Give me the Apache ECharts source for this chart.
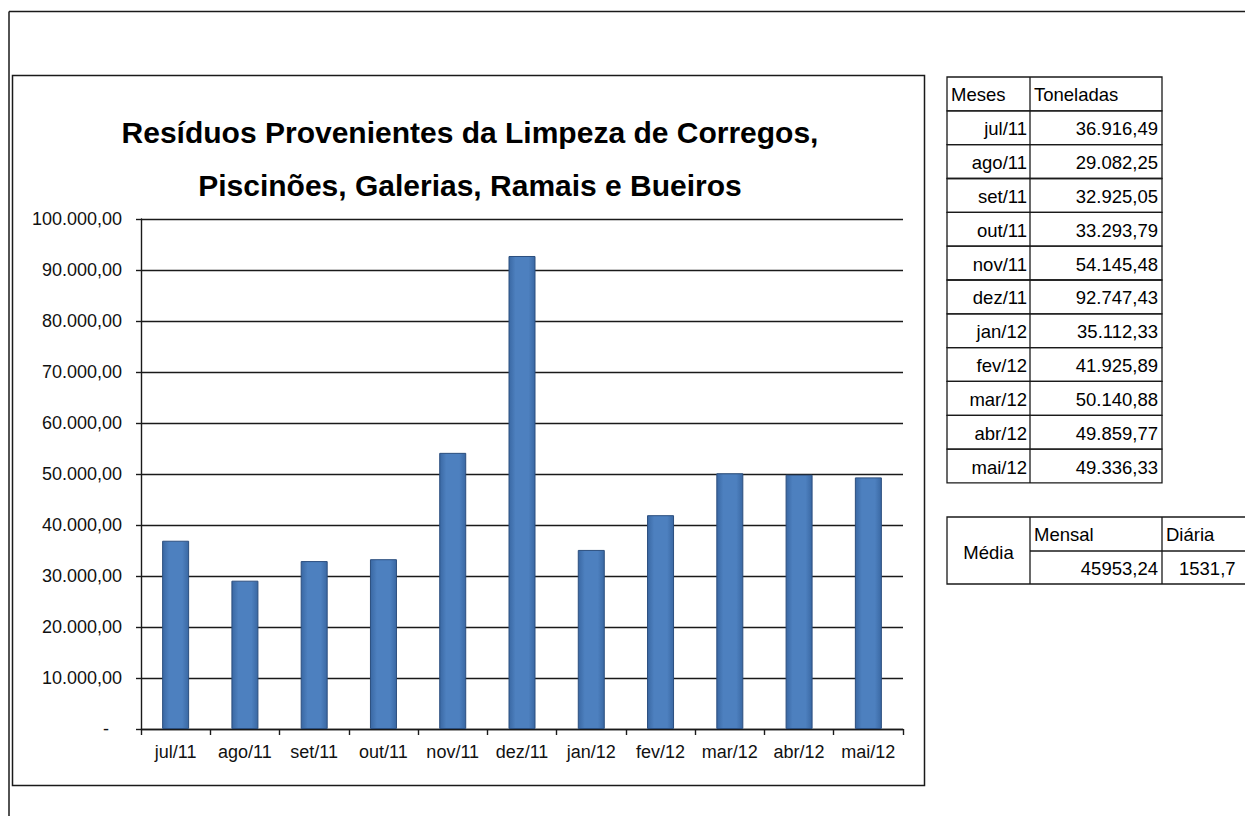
<!DOCTYPE html>
<html>
<head>
<meta charset="utf-8">
<script src="https://cdn.jsdelivr.net/npm/echarts@6/dist/echarts.min.js"></script>
<style>
html,body{margin:0;padding:0;background:#fff;}
#chart{width:1245px;height:816px;}
</style>
</head>
<body>
<div id="chart"></div>
<script>
// ---- data ----
const months = ['jul/11','ago/11','set/11','out/11','nov/11','dez/11','jan/12','fev/12','mar/12','abr/12','mai/12'];
const toneladas = [36916.49, 29082.25, 32925.05, 33293.79, 54145.48, 92747.43, 35112.33, 41925.89, 50140.88, 49859.77, 49336.33];
const titleLines = ['Resíduos Provenientes da Limpeza de Corregos,', 'Piscinões, Galerias, Ramais e Bueiros'];
const tableHeader = ['Meses', 'Toneladas'];
const mediaLabel = 'Média';
const mediaHeaders = ['Mensal', 'Diária'];
const mediaValues = ['45953,24', '1531,7'];
const yMin = 0, yMax = 100000, yStep = 10000;

function fmtBR(v) {
  const parts = v.toFixed(2).split('.');
  return parts[0].replace(/\B(?=(\d{3})+(?!\d))/g, '.') + ',' + parts[1];
}

const FONT = "'Liberation Sans', Arial, sans-serif";
const LINE = '#1a1a1a';

const graphics = [];
// outer frame (top and left edges)
graphics.push({type:'line', shape:{x1:9, y1:11.5, x2:1245, y2:11.5}, style:{stroke:LINE, lineWidth:1.5}, silent:true});
graphics.push({type:'line', shape:{x1:9, y1:11.5, x2:9, y2:816}, style:{stroke:LINE, lineWidth:1.5}, silent:true});
// chart box
graphics.push({type:'rect', shape:{x:12.5, y:75.5, width:912, height:710}, style:{stroke:LINE, lineWidth:1.5, fill:null}, silent:true, z:-1});
// title
titleLines.forEach((t, i) => {
  graphics.push({type:'text', x:470, y:132 + i*53, style:{text:t, font:"bold 30px " + FONT, fill:'#000', textAlign:'center', textVerticalAlign:'middle'}});
});

// data table
const tX0 = 947, tX1 = 1030, tX2 = 1162, tY0 = 77, rowH = 33.83;
const nRows = months.length + 1;
for (let r = 0; r < nRows; r++) {
  graphics.push({type:'rect', shape:{x:tX0, y:tY0 + r*rowH, width:tX2 - tX0, height:rowH}, style:{stroke:LINE, lineWidth:1.3, fill:null}, silent:true});
}
graphics.push({type:'line', shape:{x1:tX1, y1:tY0, x2:tX1, y2:tY0 + nRows*rowH}, style:{stroke:LINE, lineWidth:1.3}, silent:true});
const tFont = "18.5px " + FONT;
graphics.push({type:'text', x:tX0 + 4, y:tY0 + rowH/2 + 1, style:{text:tableHeader[0], font:tFont, fill:'#000', textAlign:'left', textVerticalAlign:'middle'}});
graphics.push({type:'text', x:tX1 + 4, y:tY0 + rowH/2 + 1, style:{text:tableHeader[1], font:tFont, fill:'#000', textAlign:'left', textVerticalAlign:'middle'}});
months.forEach((m, i) => {
  const cy = tY0 + (i + 1)*rowH + rowH/2 + 1;
  graphics.push({type:'text', x:tX1 - 3, y:cy, style:{text:m, font:tFont, fill:'#000', textAlign:'right', textVerticalAlign:'middle'}});
  graphics.push({type:'text', x:tX2 - 4, y:cy, style:{text:fmtBR(toneladas[i]), font:tFont, fill:'#000', textAlign:'right', textVerticalAlign:'middle'}});
});

// média table
const mY0 = 517, mY1 = 551, mY2 = 584;
graphics.push({type:'rect', shape:{x:tX0, y:mY0, width:1300 - tX0, height:mY2 - mY0}, style:{stroke:LINE, lineWidth:1.3, fill:null}, silent:true});
graphics.push({type:'line', shape:{x1:tX1, y1:mY0, x2:tX1, y2:mY2}, style:{stroke:LINE, lineWidth:1.3}, silent:true});
graphics.push({type:'line', shape:{x1:tX2, y1:mY0, x2:tX2, y2:mY2}, style:{stroke:LINE, lineWidth:1.3}, silent:true});
graphics.push({type:'line', shape:{x1:tX1, y1:mY1, x2:1300, y2:mY1}, style:{stroke:LINE, lineWidth:1.3}, silent:true});
graphics.push({type:'text', x:(tX0 + tX1)/2, y:(mY0 + mY2)/2 + 2, style:{text:mediaLabel, font:tFont, fill:'#000', textAlign:'center', textVerticalAlign:'middle'}});
graphics.push({type:'text', x:tX1 + 4, y:mY0 + 17, style:{text:mediaHeaders[0], font:tFont, fill:'#000', textAlign:'left', textVerticalAlign:'middle'}});
graphics.push({type:'text', x:tX2 + 4, y:mY0 + 17, style:{text:mediaHeaders[1], font:tFont, fill:'#000', textAlign:'left', textVerticalAlign:'middle'}});
graphics.push({type:'text', x:tX2 - 4, y:mY1 + 17, style:{text:mediaValues[0], font:tFont, fill:'#000', textAlign:'right', textVerticalAlign:'middle'}});
graphics.push({type:'text', x:1179, y:mY1 + 17, style:{text:mediaValues[1], font:tFont, fill:'#000', textAlign:'left', textVerticalAlign:'middle'}});

const chart = echarts.init(document.getElementById('chart'), null, {renderer:'svg'});
chart.setOption({
  backgroundColor:'#ffffff',
  animation:false,
  textStyle:{fontFamily:FONT},
  graphic:graphics,
  grid:{left:141, right:342, top:219, bottom:87, containLabel:false},
  xAxis:{
    type:'category',
    data:months,
    boundaryGap:true,
    axisLine:{show:true, lineStyle:{color:LINE, width:1.4}},
    axisTick:{show:true, length:6, lineStyle:{color:LINE, width:1.4}},
    axisLabel:{color:'#111', fontSize:18, fontFamily:FONT, margin:14, interval:0}
  },
  yAxis:{
    type:'value',
    min:yMin, max:yMax, interval:yStep,
    axisLine:{show:true, lineStyle:{color:LINE, width:1.4}},
    axisTick:{show:true, length:5, lineStyle:{color:LINE, width:1.4}},
    splitLine:{show:true, lineStyle:{color:LINE, width:1.4}},
    axisLabel:{
      color:'#111', fontSize:18, fontFamily:FONT, margin:19,
      formatter:function(v){ return v === 0 ? '{z|-}' : fmtBR(v); },
      rich:{z:{fontSize:18, fontFamily:FONT, color:'#111', padding:[0,13,0,0]}}
    }
  },
  series:[{
    type:'bar',
    data:toneladas,
    barWidth:27,
    itemStyle:{
      color:new echarts.graphic.LinearGradient(0,0,1,0,[
        {offset:0, color:'#3A68A3'},
        {offset:0.25, color:'#4D80BF'},
        {offset:0.75, color:'#4D80BF'},
        {offset:1, color:'#3A68A3'}
      ]),
      borderColor:'#2B4E7E',
      borderWidth:1
    }
  }]
});
</script>
</body>
</html>
